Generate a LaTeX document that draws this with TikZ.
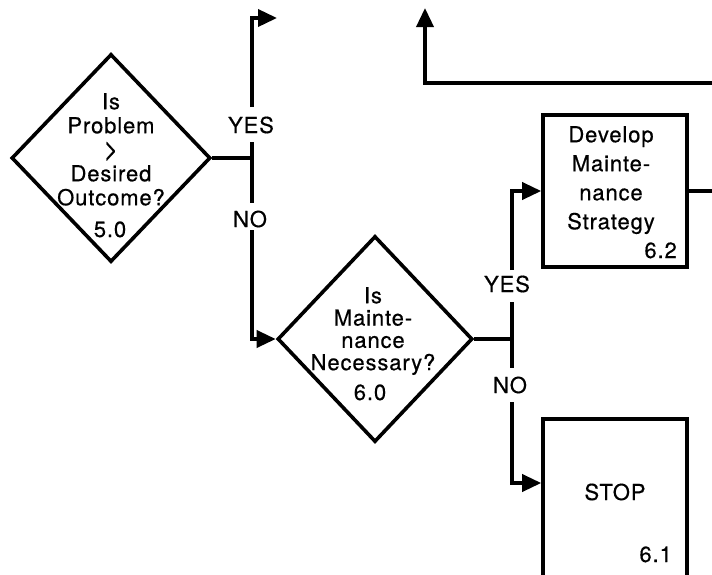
\documentclass[tikz,border=0pt]{standalone}
\usepackage{fontspec}
\usepackage{graphicx}
\setmainfont{TeX Gyre Heros}[LetterSpace=4, FakeBold=0.5]
\usetikzlibrary{shapes.geometric,arrows.meta}
% a taller "greater than" sign that keeps the line spacing
\newcommand{\tallgt}{\smash{\raisebox{-1.5pt}{\scalebox{1.1}[1.35]{>}}}}
\begin{document}
\begin{tikzpicture}[x=1pt,y=-1pt,
  flow/.style={line width=3.6pt, line join=miter},
  tip/.style={-{Triangle[length=19pt,width=17pt]}},
  decision/.style={draw, line width=3.6pt, diamond, inner sep=0pt, line join=miter},
  process/.style={draw, line width=3.6pt, rectangle, inner sep=0pt},
  body/.style={align=center, inner sep=0pt, anchor=north},
  tag/.style={font=\fontsize{22}{24}\selectfont, inner sep=0pt},
]
\useasboundingbox (0,0) rectangle (712,574);
\clip (0,0) rectangle (712,574);

% decisions and process boxes
\node[decision, minimum width=199pt, minimum height=208pt] (d50) at (111,158) {};
\node[decision, minimum width=195pt, minimum height=206pt] (d60) at (375,339) {};
\node[process, minimum width=144pt, minimum height=152pt] (b62) at (615,191) {};
\node[process, minimum width=144pt, minimum height=170pt] (b61) at (615,504) {};

% texts inside the shapes
\node[body, font=\fontsize{22}{24}\selectfont] (t50) at (111,93)
  {Is\\Problem\\\tallgt\\Desired\\Outcome?};
\node[tag, anchor=base] (n50) at (110,237) {5.0};
\node[body, font=\fontsize{22}{22.3}\selectfont] (t60) at (373,287)
  {Is\\Mainte-\\nance\\Necessary?};
\node[tag, anchor=base] (n60) at (370,400) {6.0};
\node[body, font=\fontsize{22}{29}\selectfont] (t62) at (611,126)
  {Develop\\Mainte-\\nance\\Strategy};
\node[tag, anchor=base east] (n62) at (677,258) {6.2};
\node[tag, anchor=base] (t61) at (615,500) {STOP};
\node[tag, anchor=base east] (n61) at (672,562) {6.1};

% branch labels
\node[tag] (yes5) at (251,125) {YES};
\node[tag] (no5) at (250,219) {NO};
\node[tag] (yes6) at (507,284) {YES};
\node[tag] (no6) at (510,385) {NO};

% line ends of the branches
\coordinate (c5up) at (252,107);
\coordinate (c5turn) at (252,18);
\coordinate (c5tip) at (277,18);
\coordinate (c5a) at (252,142);
\coordinate (c5b) at (252,203);
\coordinate (c5no) at (252,230);
\coordinate (c6yes) at (512,270);
\coordinate (c6a) at (512,302);
\coordinate (c6b) at (512,368);
\coordinate (c6no) at (512,402);
\coordinate (c62out) at (716,191);
\coordinate (cret) at (716,83);
\coordinate (cup) at (425,8);

% branches of decision 5.0
\draw[flow, tip] (c5up) -- (c5turn) -- (c5tip);
\draw[flow] (c5a) -- (c5b);
\draw[flow] (d50.east) -- (d50.east -| c5a);
\draw[flow, tip] (c5no) |- (d60.west);

% branches of decision 6.0
\draw[flow] (d60.east) -- (d60.east -| c6a);
\draw[flow] (c6a) -- (c6b);
\draw[flow, tip] (c6yes) |- (b62.west);
\draw[flow, tip] (c6no) |- ([yshift=21pt]b61.west);

% outgoing lines
\draw[flow] (b62.east) -- (c62out);
\draw[flow, tip] (cret) -| (cup);
\end{tikzpicture}
\end{document}
